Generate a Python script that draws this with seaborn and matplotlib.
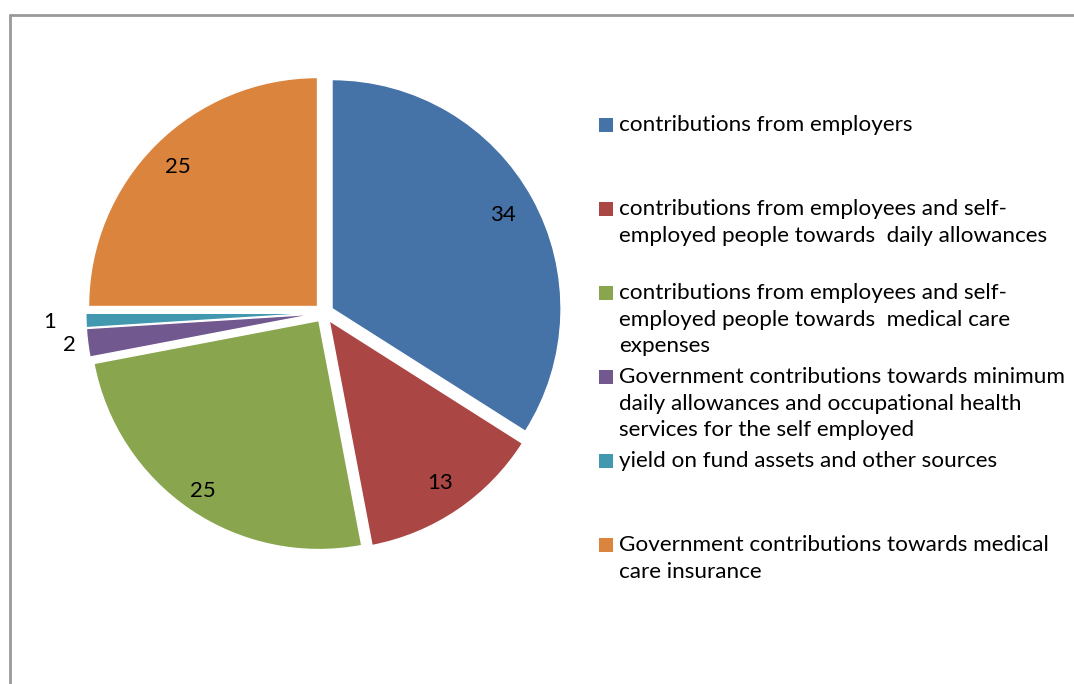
import matplotlib
matplotlib.use('Agg')
import matplotlib.pyplot as plt
import numpy as np
import seaborn as sns
from matplotlib.lines import Line2D
from matplotlib.patches import Rectangle

# shares of funding sources (percent)
sources = [
    'contributions from employers',
    'contributions from employees and self-\nemployed people towards  daily allowances',
    'contributions from employees and self-\nemployed people towards  medical care\nexpenses',
    'Government contributions towards minimum\ndaily allowances and occupational health\nservices for the self employed',
    'yield on fund assets and other sources',
    'Government contributions towards medical\ncare insurance',
]
shares = [34, 13, 25, 2, 1, 25]
colors = ['#4572A7', '#AA4643', '#89A54E', '#71588F', '#4198AF', '#DB843D']
# label distance from centre (fraction of radius)
label_dist = [0.89, 0.90, 0.94, 1.12, 1.20, 0.90]

sns.set_theme(style='white')
plt.rcParams['font.family'] = ['Lato', 'DejaVu Sans']

W, H = 1074, 684
fig = plt.figure(figsize=(W / 100, H / 100), dpi=100)

# pie axes: centre ~ (324, 313) px, radius ~ 229 px
R = 229
cx, cy = 324, 313
ax = fig.add_axes([(cx - 1.25 * R) / W, (H - cy - 1.25 * R) / H, 2.5 * R / W, 2.5 * R / H])
wedges, _ = ax.pie(shares, colors=colors, startangle=90, counterclock=False,
                   explode=[0.04] * len(shares),
                   wedgeprops=dict(edgecolor='white', linewidth=1))
ax.set_xlim(-1.25, 1.25)
ax.set_ylim(-1.25, 1.25)
ax.set_aspect('equal')
ax.axis('off')

for w, val, d in zip(wedges, shares, label_dist):
    mid = np.deg2rad((w.theta1 + w.theta2) / 2)
    ax.text(d * np.cos(mid), d * np.sin(mid), str(val), ha='center', va='center',
            fontsize=16, color='black')

# legend drawn as evenly spaced entries like the original
leg_x, leg_y0, step = 599, 125, 84
for i, (lab, col) in enumerate(zip(sources, colors)):
    yc = leg_y0 + i * step
    fig.add_artist(Rectangle((leg_x / W, 1 - (yc + 7) / H), 14 / W, 14 / H,
                             transform=fig.transFigure, facecolor=col, edgecolor='none'))
    fig.text(619 / W, 1 - (yc - 10) / H, lab, ha='left', va='top', fontsize=16.2,
             color='black', linespacing=1.42)

# chart border (top and left visible)
fig.add_artist(Line2D([10 / W, 1.01], [1 - 15 / H, 1 - 15 / H], transform=fig.transFigure,
                      color='#999999', linewidth=2))
fig.add_artist(Line2D([10 / W, 10 / W], [-0.01, 1 - 15 / H], transform=fig.transFigure,
                      color='#999999', linewidth=2))

fig.savefig('out.png', dpi=100)
